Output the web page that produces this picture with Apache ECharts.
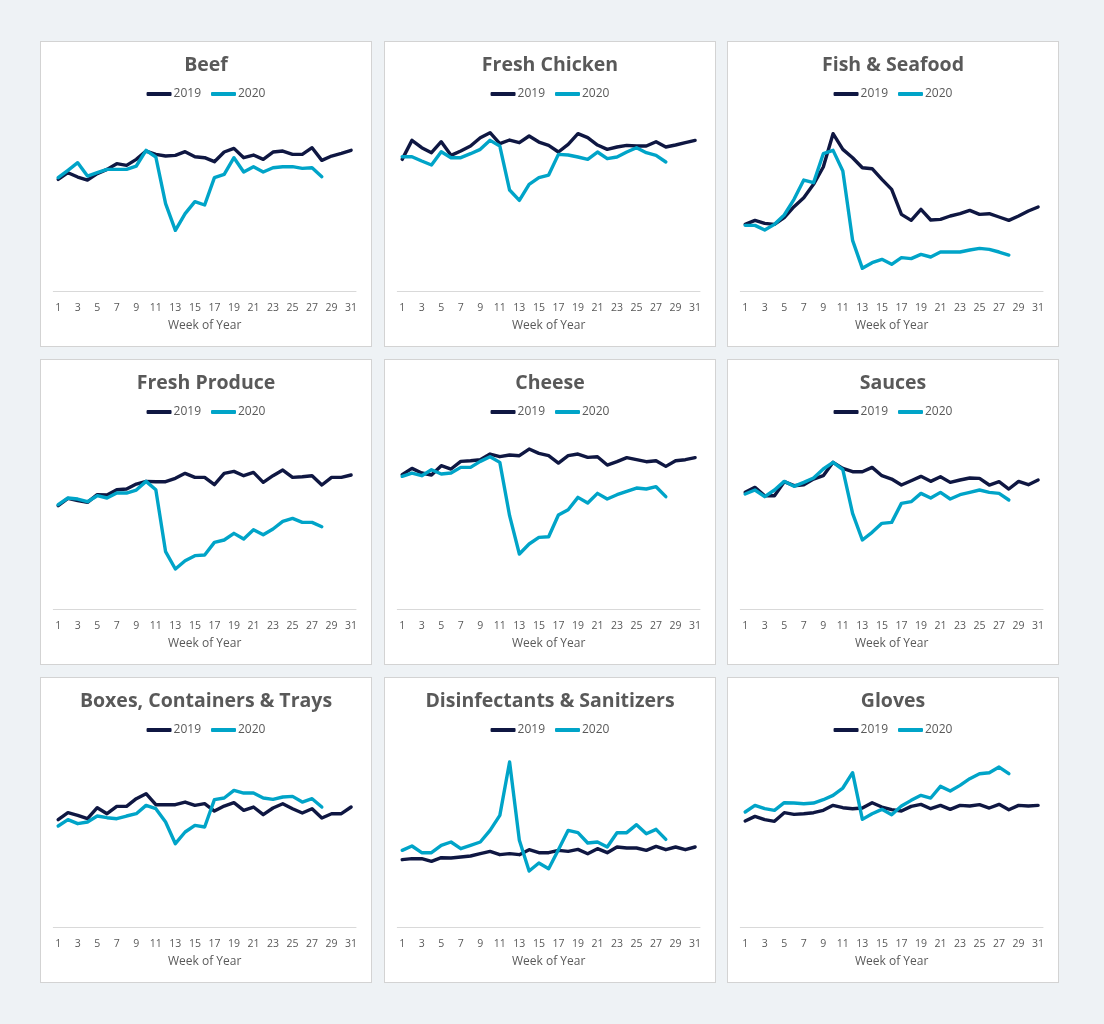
<!DOCTYPE html>
<html>
<head>
<meta charset="utf-8">
<script src="https://cdn.jsdelivr.net/npm/echarts@6/dist/echarts.min.js"></script>
<style>
  html, body { margin: 0; padding: 0; background: #eef2f5; width: 1104px; height: 1024px; overflow: hidden; }
  .panel { position: absolute; width: 332px; height: 306px; box-sizing: border-box; border: 1px solid #d3d3d3; background: #ffffff; }
  .chart { width: 330px; height: 304px; }
</style>
</head>
<body>
<script>
// Week numbers (x axis categories)
const weeks = ['1','2','3','4','5','6','7','8','9','10','11','12','13','14','15','16','17','18','19','20','21','22','23','24','25','26','27','28','29','30','31'];
const seriesNames = ['2019', '2020'];
const titles = ['Beef', 'Fresh Chicken', 'Fish & Seafood', 'Fresh Produce', 'Cheese', 'Sauces', 'Boxes, Containers & Trays', 'Disinfectants & Sanitizers', 'Gloves'];

// Relative index values (no y axis shown in the original)
const beef2019 = [67,71,68.4,66.6,70.4,73,76.4,75.4,79,84,82,81,81.4,83.6,80.6,80,77.6,83.4,85.6,80,81.6,79,83.4,84,82,82,86,78.4,81,82.6,84.4];
const beef2020 = [68,72.4,77,69,71,73,73,73,75,84.4,80.4,52.4,36.4,46.4,53.6,51.6,68,70,80,71.4,74.6,71.4,74,74.6,74.6,73.6,74,68.6];

const chicken2019 = [79,90.4,86,83,89.6,81.4,84,87,92,95,88.4,90.6,89,93,89.4,87.4,83.4,88,94.4,92,87.6,85,86.4,87.4,87,87,89.6,86.4,87.6,89,90.4];
const chicken2020 = [80.6,80.6,78,75.6,83.6,80,80,82.4,85,90.4,87,60.6,54.4,64,68,69.6,82,81.6,80.4,79,83.4,79.4,80.4,83.4,86,83,81.4,77.4];

const fish2019 = [40,42.4,40.6,40,44,50.6,56,64,74.4,94.4,85,80,74,73.4,67,61,46,42.4,49,42.6,43,45,46.4,48.4,46,46.4,44.4,42.4,45,48,50.4];
const fish2020 = [39.4,39.4,36.6,40,45.6,55,66.6,65,82.4,84.4,72,30.4,13.6,17,19,16,20,19.4,22,20.4,23.4,23.4,23.4,24.6,25.6,25,23.4,21.6];

const produce2019 = [62,66.4,65,64,68.6,68.4,71.6,72,75,76.6,76.4,76.4,78.4,81.4,79,79,74.6,81.4,82.6,80,82,76,80,83.4,79,79.4,80,74.4,79,79,80.4];
const produce2020 = [62.6,66.6,66,64.4,68,66.6,69.6,69.6,71.4,76.6,71.6,34.4,24,29,32,32.4,40,41.4,45.4,42,47.6,44.6,48,52.6,54.4,52,52,49.4];

const cheese2019 = [80.6,84.4,81.6,80.4,86,84,88.6,89,89.6,93,91.4,92.4,92,96,93.4,92,87.6,92,93,91,91.4,86.4,88.4,90.8,89.6,88.4,89,85.6,89,89.6,90.8];
const cheese2020 = [79.6,81.6,80,83.6,81,81.6,85,85,88.6,91.4,88,56,33,39,43,43.4,56.4,59.6,67,63.6,69.4,66,68.6,70.6,72.6,72,73.4,67.4];

const sauces2019 = [70,73,68,68,76.4,74,74.6,78,80,88,84.4,82.4,82.4,85,80,78,74.4,77,79.6,76.6,79.4,76,77.4,78.6,78.4,74.4,76.4,72,76.6,74.6,77.4];
const sauces2020 = [69,71.4,67.4,71.4,76.6,73.6,76,78.6,84,88,83.6,57.4,41.4,46,51.4,52,63.4,64.4,69.4,66.6,70,66,68.6,70,71.4,70,69.4,65.4];

const boxes2019 = [64.4,68.6,67,65,71.6,68,72.4,72.4,77,80,73.4,73.4,73.4,75,73,74,69.6,72.6,74.6,70,72,67.4,71.4,74,71,68.4,71,65.4,68,68,72];
const boxes2020 = [60.6,64.4,62,63,66.6,65.6,65,66.6,68,73,71,63,50,57,61,60,76.4,77.4,82,80.4,80.4,77.4,76.6,78,78.4,75,77,72];

const disinf2019 = [40.4,41,41,39.4,41.6,41.4,42,42.6,44,45.4,43.4,44,43.4,46.4,44.6,44.6,46,45.4,46.6,44,47,44.6,48,47.4,47.4,46,48.4,46.4,48,46.4,48];
const disinf2020 = [46,48.6,44.6,44.6,49,51,47,49,51,58,67,99,52,33.6,38.4,35,46.4,58,56.6,50.4,51,48,56.6,56.6,61.4,56,58.6,52.6];

const gloves2019 = [63.6,66.4,64.4,63.4,68.6,67.6,68,68.6,70,73,71.6,71,71.4,74.6,72,70.4,69.6,72.4,73.6,71,73,70.6,73,72.6,73.4,71.4,73.6,70.4,73,72.6,73];
const gloves2020 = [69,73,71,70,74.6,74.4,74,74.4,76.4,79,83.4,92.6,64.6,68,70.6,67.4,72.6,76,79,77.4,84.4,81.6,85,89,92,92.6,96,92];

const panelData = [
  [beef2019, beef2020], [chicken2019, chicken2020], [fish2019, fish2020],
  [produce2019, produce2020], [cheese2019, cheese2020], [sauces2019, sauces2020],
  [boxes2019, boxes2020], [disinf2019, disinf2020], [gloves2019, gloves2020]
];

const colors = ['#0f1742', '#00a4c8'];
const FONT = '"Open Sans", "Noto Sans", sans-serif';
const lefts = [40, 384, 727];
const tops = [41, 359, 677];

titles.forEach((title, i) => {
  const panel = document.createElement('div');
  panel.className = 'panel';
  panel.style.left = lefts[i % 3] + 'px';
  panel.style.top = tops[Math.floor(i / 3)] + 'px';
  const el = document.createElement('div');
  el.className = 'chart';
  panel.appendChild(el);
  document.body.appendChild(panel);

  const chart = echarts.init(el, null, { renderer: 'canvas' });
  chart.setOption({
    animation: false,
    backgroundColor: '#ffffff',
    textStyle: { fontFamily: FONT },
    title: {
      text: title,
      left: 'center',
      top: 10,
      padding: 0,
      textStyle: { fontFamily: FONT, fontSize: 19.5, fontWeight: 'bold', color: '#595959', lineHeight: 26 }
    },
    legend: {
      data: seriesNames,
      top: 46,
      left: 'center',
      itemWidth: 25,
      itemHeight: 4,
      itemGap: 10,
      icon: 'roundRect',
      padding: 0,
      textStyle: { fontFamily: FONT, fontSize: 12, color: '#595959', padding: [0, 0, 0, -3] }
    },
    grid: { left: 12.3, right: 15, top: 65.7, bottom: 55, containLabel: false },
    xAxis: {
      type: 'category',
      data: weeks,
      boundaryGap: true,
      axisLine: { show: true, lineStyle: { color: '#d9d9d9', width: 1 } },
      axisTick: { show: false },
      axisLabel: { interval: 1, color: '#595959', fontSize: 10.5, fontFamily: FONT, margin: 12 },
      name: 'Week of Year',
      nameLocation: 'middle',
      nameGap: 29,
      nameTextStyle: { color: '#595959', fontSize: 12, fontFamily: FONT }
    },
    yAxis: {
      type: 'value',
      min: 0,
      max: 110,
      show: false,
      splitLine: { show: false }
    },
    series: seriesNames.map((name, k) => ({
      name: name,
      type: 'line',
      data: panelData[i][k],
      symbol: 'none',
      showSymbol: false,
      smooth: false,
      color: colors[k],
      lineStyle: { color: colors[k], width: 3.4, cap: 'round', join: 'round' },
      emphasis: { disabled: true }
    }))
  });
});
</script>
</body>
</html>
